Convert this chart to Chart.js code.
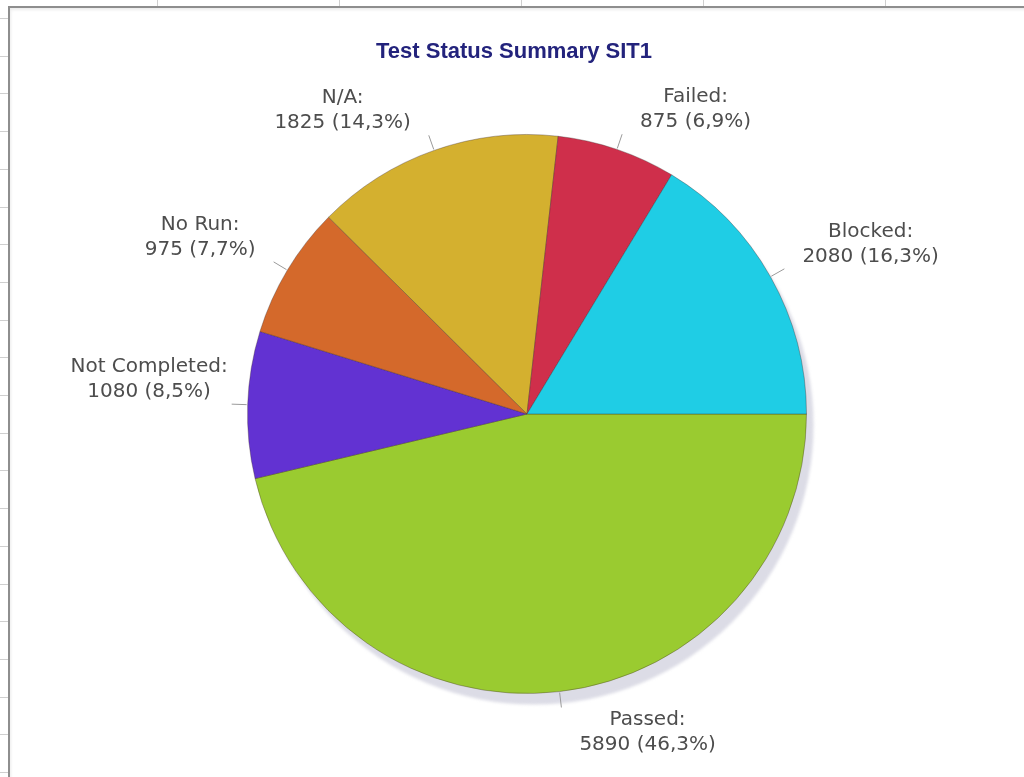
<!DOCTYPE html>
<html>
<head>
<meta charset="utf-8">
<title>Test Status Summary SIT1</title>
<script src="https://cdn.jsdelivr.net/npm/chart.js@4.4.1/dist/chart.umd.min.js"></script>
<style>
  html, body { margin: 0; padding: 0; background: #fff; overflow: hidden; }
  #sheetTop {
    position: absolute; left: 0; top: 0; width: 1024px; height: 6px;
    background: repeating-linear-gradient(to right, transparent 0, transparent 157px, #cfcfcf 157px, #cfcfcf 158px, transparent 158px, transparent 182px);
  }
  #sheetLeft {
    position: absolute; left: 0; top: 0; width: 8px; height: 777px;
    background: repeating-linear-gradient(to bottom, transparent 0, transparent 18px, #cfcfcf 18px, #cfcfcf 19px, transparent 19px, transparent 37.7px);
  }
  #frame {
    position: absolute; left: 8px; top: 6px; width: 1030px; height: 790px;
    border: 2px solid #8e8e8e; box-sizing: border-box; background: #fff;
    box-shadow: inset 1px 2px 3px rgba(0,0,0,0.08);
  }
  #chart { position: absolute; left: 0; top: 0; }
</style>
</head>
<body>
<div id="sheetTop"></div>
<div id="sheetLeft"></div>
<div id="frame"></div>
<canvas id="chart" width="1024" height="777"></canvas>
<script>
// Test run results for SIT1, in drawing order (clockwise from 3 o'clock)
const statuses = ['Passed', 'Not Completed', 'No Run', 'N/A', 'Failed', 'Blocked'];
const counts = [5890, 1080, 975, 1825, 875, 2080];
const sliceColors = ['#9acb30', '#6232d2', '#d4692b', '#d4b02f', '#cf2f4b', '#1fcde5'];

const chartTitle = 'Test Status Summary SIT1';
const total = counts.reduce((a, b) => a + b, 0);

function pctText(v) {
    return (v / total * 100).toFixed(1).replace('.', ',');
}

// Soft grey shadow under the pie
const shadowPlugin = {
    id: 'pieShadow',
    beforeDatasetsDraw(chart) {
        const arc = chart.getDatasetMeta(0).data[0];
        if (!arc) return;
        const p = arc.getProps(['x', 'y', 'outerRadius'], true);
        const ctx = chart.ctx;
        ctx.save();
        ctx.filter = 'blur(1.5px)';
        ctx.fillStyle = '#dcdce6';
        ctx.beginPath();
        ctx.arc(p.x + 7, p.y + 11, p.outerRadius, 0, Math.PI * 2);
        ctx.fill();
        ctx.restore();
    }
};

// Leader lines and two-line labels outside each slice
const labelPlugin = {
    id: 'sliceLabels',
    afterDatasetsDraw(chart) {
        const ctx = chart.ctx;
        const meta = chart.getDatasetMeta(0);
        const lh = 25;
        ctx.save();
        ctx.font = '20px "DejaVu Sans", Verdana, sans-serif';
        ctx.textAlign = 'center';
        ctx.textBaseline = 'middle';
        meta.data.forEach((arc, i) => {
            const p = arc.getProps(['x', 'y', 'startAngle', 'endAngle', 'outerRadius'], true);
            const mid = (p.startAngle + p.endAngle) / 2;
            const cos = Math.cos(mid), sin = Math.sin(mid);
            const ex = p.x + cos * (p.outerRadius + 16);
            const ey = p.y + sin * (p.outerRadius + 16);

            ctx.strokeStyle = '#9a9a9a';
            ctx.lineWidth = 1;
            ctx.beginPath();
            ctx.moveTo(p.x + cos * (p.outerRadius + 1), p.y + sin * (p.outerRadius + 1));
            ctx.lineTo(ex, ey);
            ctx.stroke();

            const lines = [statuses[i] + ':', counts[i] + ' (' + pctText(counts[i]) + '%)'];
            const w = Math.max(...lines.map(l => ctx.measureText(l).width));
            const gap = Math.abs(sin) < 0.2 ? 4 : 18;
            const left = cos >= 0 ? ex + gap : ex - gap - w;
            const top = sin > 0 ? ey : ey - lines.length * lh;
            ctx.fillStyle = '#4d4d4d';
            lines.forEach((l, k) => ctx.fillText(l, left + w / 2, top + lh * k + lh / 2));
        });
        ctx.restore();
    }
};

const titlePlugin = {
    id: 'chartHeading',
    afterDraw(chart) {
        const ctx = chart.ctx;
        ctx.save();
        ctx.font = 'bold 22px "Liberation Sans", Arial, sans-serif';
        ctx.fillStyle = '#23237c';
        ctx.textAlign = 'center';
        ctx.textBaseline = 'alphabetic';
        ctx.fillText(chartTitle, 514, 58);
        ctx.restore();
    }
};

new Chart(document.getElementById('chart').getContext('2d'), {
    type: 'pie',
    data: {
        labels: statuses,
        datasets: [{
            data: counts,
            backgroundColor: sliceColors,
            borderColor: 'rgba(60, 40, 40, 0.35)',
            borderWidth: 1
        }]
    },
    options: {
        responsive: false,
        animation: false,
        rotation: 90,
        layout: { padding: { top: 134, bottom: 83, left: 200, right: 170 } },
        plugins: {
            legend: { display: false },
            tooltip: { enabled: false },
            title: { display: false }
        }
    },
    plugins: [shadowPlugin, labelPlugin, titlePlugin]
});
</script>
</body>
</html>
